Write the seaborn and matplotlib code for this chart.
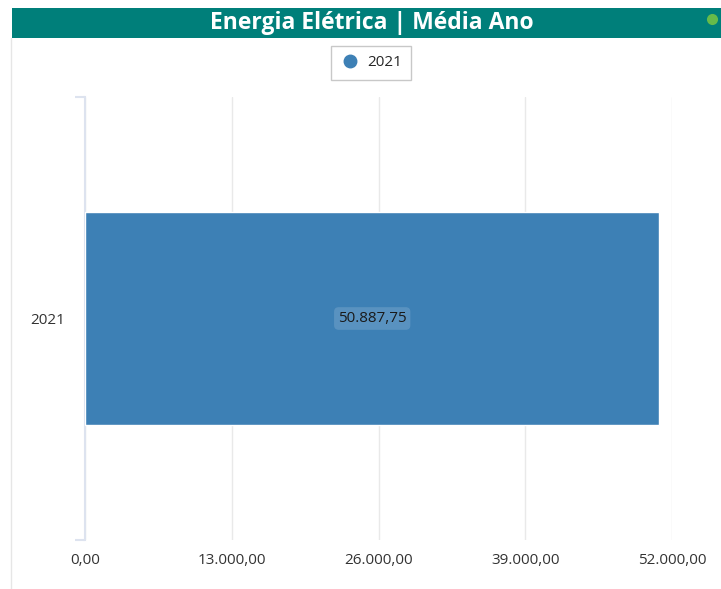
import matplotlib
matplotlib.use("Agg")
import matplotlib.pyplot as plt
import seaborn as sns
import pandas as pd
from matplotlib.patches import Rectangle
from matplotlib.lines import Line2D
from matplotlib.ticker import FuncFormatter

categories = ["2021"]
values = [50887.75]
xticks = [0, 13000, 26000, 39000, 52000]
title = "Energia Elétrica | Média Ano"
bar_color = "#3d80b5"

df = pd.DataFrame({"ano": categories, "valor": values})

sns.set_style("white")
plt.rcParams["font.family"] = ["Open Sans", "DejaVu Sans"]

fig = plt.figure(figsize=(7.21, 5.89), dpi=100)
W, H = 721, 589
ax = fig.add_axes([85 / W, 1 - 540 / H, (672 - 85) / W, (540 - 97) / H])

sns.barplot(data=df, x="valor", y="ano", orient="h", color=bar_color,
            saturation=1, width=0.48, ax=ax, zorder=3)
ax.set_ylim(0.5, -0.5)
ax.set_xlim(0, 52000)
ax.set_xticks(xticks)

def fmt(v, pos=None):
    s = f"{v:,.2f}"
    return s.replace(",", "X").replace(".", ",").replace("X", ".")

ax.xaxis.set_major_formatter(FuncFormatter(fmt))
ax.grid(axis="x", color="#e9e9e9", linewidth=1, zorder=0)
for s in ["top", "right", "bottom"]:
    ax.spines[s].set_visible(False)
ax.spines["left"].set_color("#dde3ef")
ax.spines["left"].set_linewidth(1.5)
ax.tick_params(axis="x", length=0, labelsize=11, labelcolor="#333333", pad=9)
ax.tick_params(axis="y", which="major", length=0, labelsize=11, labelcolor="#333333", pad=14)
ax.set_yticks([-0.5, 0.5], minor=True)
ax.tick_params(axis="y", which="minor", left=True, length=7, width=1.5, color="#dde3ef")
ax.set_xlabel("")
ax.set_ylabel("")

for i, v in enumerate(values):
    ax.text(v / 2, i, fmt(v), ha="center", va="center", fontsize=11, color="#1a1a1a",
            zorder=5,
            bbox=dict(boxstyle="round,pad=0.25,rounding_size=0.3", facecolor="white",
                      alpha=0.15, edgecolor="none"))

# title bar
fig.patches.append(Rectangle((12 / W, 1 - 38 / H), (W - 12) / W, 30 / H,
                             transform=fig.transFigure, facecolor="#007f7a",
                             edgecolor="none", zorder=0))
fig.text(372 / W, 1 - 23 / H, title, ha="center", va="center", color="white",
         fontsize=16.5, fontweight="bold")
fig.lines.append(Line2D([712 / W], [1 - 19 / H], transform=fig.transFigure,
                        marker="o", markersize=8, markerfacecolor="#66bb4a",
                        markeredgecolor="none", linestyle="none"))
fig.lines.append(Line2D([10.5 / W, 10.5 / W], [0, 1 - 38 / H], transform=fig.transFigure,
                        color="#e6e6e6", linewidth=1))

handle = Line2D([], [], marker="o", linestyle="none", markersize=9,
                markerfacecolor=bar_color, markeredgecolor=bar_color)
fig.legend([handle], categories, loc="center", bbox_to_anchor=(371 / W, 1 - 63 / H),
           frameon=True, fancybox=False, edgecolor="#bbbbbb", fontsize=11,
           handletextpad=0.5, borderpad=0.6, borderaxespad=0, handlelength=1.3)

fig.savefig("out.png", dpi=100)
